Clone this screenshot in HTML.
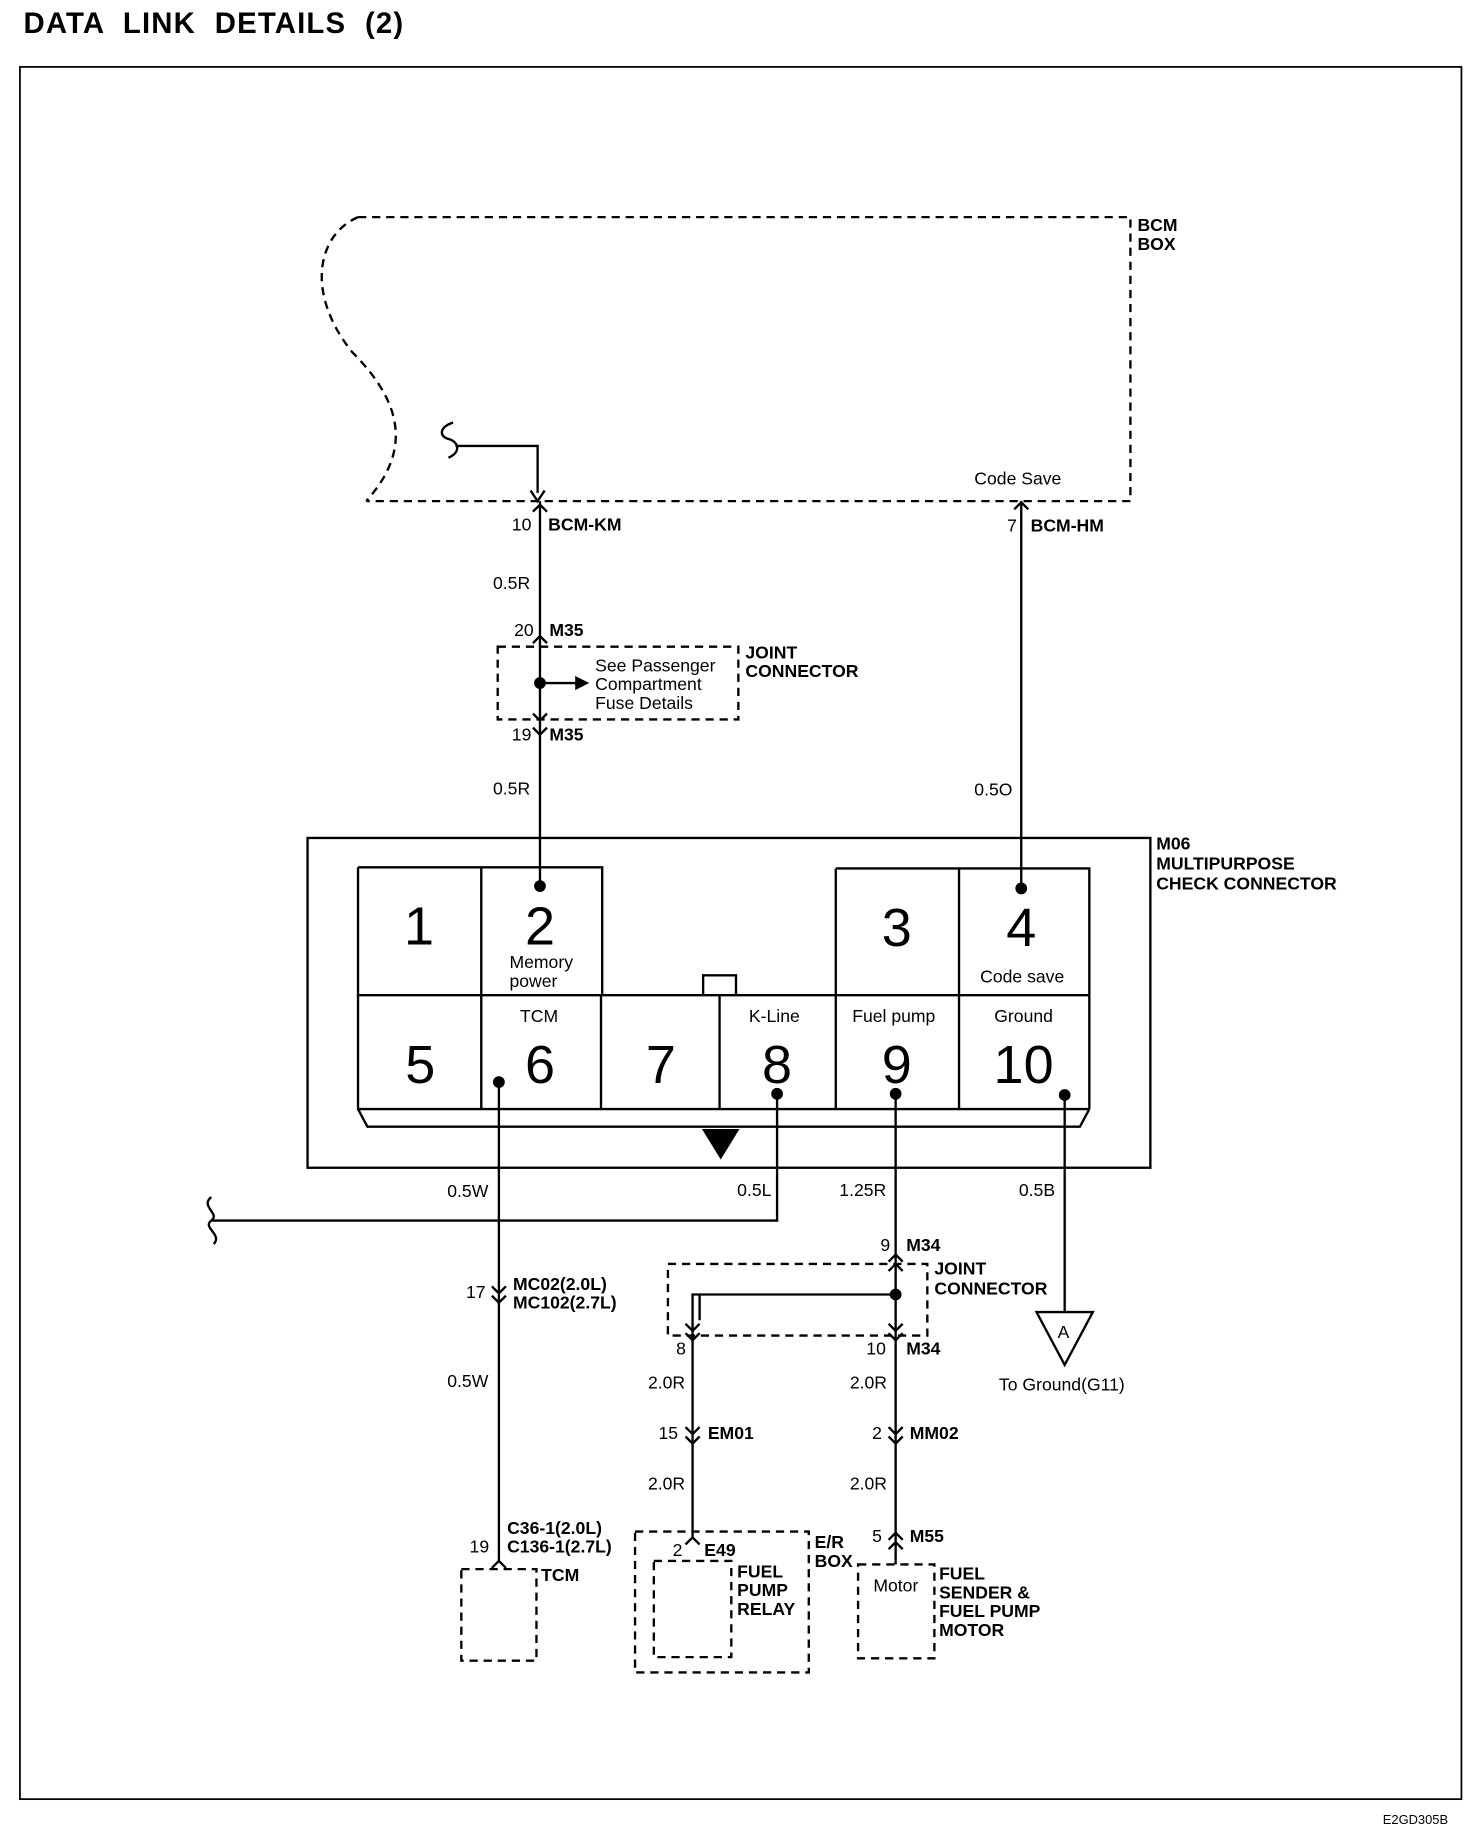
<!DOCTYPE html>
<html><head><meta charset="utf-8"><style>
html,body{margin:0;padding:0;background:#fff}
svg{display:block}
text{font-family:"Liberation Sans",sans-serif;fill:#000}
.b{font-weight:bold}
.s{font-size:15px}
.big{font-size:46px}
</style></head><body>
<svg width="1472" height="1832" viewBox="0 0 1254 1561" preserveAspectRatio="none" xmlns="http://www.w3.org/2000/svg">
<g fill="none" stroke="#000" stroke-width="2">
<text x="20" y="28" class="b" style="font-size:25px;letter-spacing:1px;word-spacing:8px" stroke="none">DATA LINK DETAILS (2)</text>
<rect x="17" y="57" width="1228" height="1476" stroke-width="1.5"/>
<!-- BCM box -->
<g stroke-dasharray="7,5">
<path d="M305 185 L963 185 L963 427 L312 427"/>
<path d="M305 185 C270 200 260 250 300 300 C350 350 345 390 312 427"/>
<rect x="424" y="551" width="205" height="62"/>
<rect x="569" y="1077" width="221" height="61"/>
<rect x="393" y="1337" width="64" height="78"/>
<rect x="541" y="1305" width="148" height="120"/>
<rect x="557" y="1330" width="66" height="82"/>
<rect x="731" y="1333" width="65" height="80"/>
</g>
<!-- wires -->
<path d="M386 360 C374 364 374 372 382 374 C392 377 392 386 382 390"/>
<path d="M388 380 L458 380 L458 420"/>
<path d="M452 418 L458 427 L464 418"/>
<path d="M460 427 L460 755"/>
<path d="M454 436 L460 430 L466 436"/>
<path d="M454 548 L460 542 L466 548"/>
<path d="M454 608 L460 614 L466 608"/>
<path d="M454 620 L460 626 L466 620"/>
<path d="M460 582 L492 582"/>
<path d="M870 427 L870 757"/>
<path d="M864 434 L870 428 L876 434"/>
<!-- connector -->
<rect x="262" y="714" width="718" height="281"/>
<path d="M305 739 L513 739 L513 848 M410 739 L410 945"/>
<path d="M712 740 L928 740 L928 945 M817 740 L817 945 M712 740 L712 945"/>
<path d="M305 739 L305 945 L928 945 M305 848 L928 848"/>
<path d="M512 848 L512 945 M613 848 L613 945"/>
<path d="M599 848 L599 831 L627 831 L627 848"/>
<path d="M305 945 L313 960 L920 960 L928 945"/>
<path d="M425 922 L425 1330"/>
<path d="M662 932 L662 1040 L180 1040"/>
<path d="M180 1020 C170 1028 188 1034 180 1040 C172 1046 190 1052 182 1060"/>
<path d="M763 932 L763 1330"/>
<path d="M907 933 L907 1118"/>
<path d="M883 1118 L931 1118 L907 1163 Z"/>
<path d="M419 1096 L425 1102 L431 1096 M419 1104 L425 1110 L431 1104"/>
<path d="M419 1336 L425 1330 L431 1336"/>
<path d="M757 1075 L763 1069 L769 1075 M757 1083 L763 1077 L769 1083"/>
<path d="M763 1103 L590 1103 L590 1310 M596 1103 L596 1125"/>
<path d="M584 1128 L590 1134 L596 1128 M584 1136 L590 1142 L596 1136"/>
<path d="M757 1128 L763 1134 L769 1128 M757 1136 L763 1142 L769 1136"/>
<path d="M584 1216 L590 1222 L596 1216 M584 1224 L590 1230 L596 1224"/>
<path d="M757 1216 L763 1222 L769 1216 M757 1224 L763 1230 L769 1224"/>
<path d="M584 1316 L590 1310 L596 1316"/>
<path d="M757 1312 L763 1306 L769 1312 M757 1320 L763 1314 L769 1320"/>
<path d="M763 1330 L763 1333"/>
</g>
<g fill="#000">
<circle cx="460" cy="755" r="5"/><circle cx="870" cy="757" r="5"/>
<circle cx="425" cy="922" r="5"/><circle cx="662" cy="932" r="5"/>
<circle cx="763" cy="932" r="5"/><circle cx="907" cy="933" r="5"/>
<circle cx="460" cy="582" r="5"/><circle cx="763" cy="1103" r="5"/>
<path d="M490 576 L502 582 L490 588 Z"/>
<path d="M598 962 L630 962 L614 988 Z"/>
</g>
<g class="s">
<text x="969" y="197" class="b">BCM</text><text x="969" y="213" class="b">BOX</text>
<text x="436" y="452">10</text><text x="467" y="452" class="b">BCM-KM</text>
<text x="420" y="502">0.5R</text>
<text x="438" y="542">20</text><text x="468" y="542" class="b">M35</text>
<text x="507" y="572">See Passenger</text><text x="507" y="588">Compartment</text><text x="507" y="604">Fuse Details</text>
<text x="635" y="561" class="b">JOINT</text><text x="635" y="577" class="b">CONNECTOR</text>
<text x="436" y="631">19</text><text x="468" y="631" class="b">M35</text>
<text x="420" y="677">0.5R</text>
<text x="830" y="413">Code Save</text>
<text x="858" y="453">7</text><text x="878" y="453" class="b">BCM-HM</text>
<text x="830" y="678">0.5O</text>
<text x="985" y="724" class="b">M06</text><text x="985" y="741" class="b">MULTIPURPOSE</text><text x="985" y="758" class="b">CHECK CONNECTOR</text>
<text x="434" y="825">Memory</text><text x="434" y="841">power</text>
<text x="835" y="837">Code save</text>
<text x="443" y="871">TCM</text><text x="638" y="871">K-Line</text>
<text x="726" y="871">Fuel pump</text><text x="847" y="871">Ground</text>
<text x="381" y="1020">0.5W</text><text x="628" y="1019">0.5L</text>
<text x="715" y="1019">1.25R</text><text x="868" y="1019">0.5B</text>
<text x="397" y="1106">17</text><text x="437" y="1099" class="b">MC02(2.0L)</text><text x="437" y="1115" class="b">MC102(2.7L)</text>
<text x="381" y="1182">0.5W</text>
<text x="400" y="1323">19</text><text x="432" y="1307" class="b">C36-1(2.0L)</text><text x="432" y="1323" class="b">C136-1(2.7L)</text>
<text x="461" y="1347" class="b">TCM</text>
<text x="750" y="1066">9</text><text x="772" y="1066" class="b">M34</text>
<text x="796" y="1086" class="b">JOINT</text><text x="796" y="1103" class="b">CONNECTOR</text>
<text x="576" y="1154">8</text><text x="738" y="1154">10</text><text x="772" y="1154" class="b">M34</text>
<text x="552" y="1183">2.0R</text><text x="724" y="1183">2.0R</text>
<text x="561" y="1226">15</text><text x="603" y="1226" class="b">EM01</text>
<text x="743" y="1226">2</text><text x="775" y="1226" class="b">MM02</text>
<text x="552" y="1269">2.0R</text><text x="724" y="1269">2.0R</text>
<text x="573" y="1326">2</text><text x="600" y="1326" class="b">E49</text>
<text x="694" y="1319" class="b">E/R</text><text x="694" y="1335" class="b">BOX</text>
<text x="628" y="1344" class="b">FUEL</text><text x="628" y="1360" class="b">PUMP</text><text x="628" y="1376" class="b">RELAY</text>
<text x="743" y="1314">5</text><text x="775" y="1314" class="b">M55</text>
<text x="744" y="1356">Motor</text>
<text x="800" y="1346" class="b">FUEL</text><text x="800" y="1362" class="b">SENDER &amp;</text><text x="800" y="1378" class="b">FUEL PUMP</text><text x="800" y="1394" class="b">MOTOR</text>
<text x="901" y="1140">A</text>
<text x="851" y="1185">To Ground(G11)</text>
<text x="1178" y="1554" style="font-size:11px">E2GD305B</text>
</g>
<g class="big" text-anchor="middle">
<text x="357" y="805">1</text><text x="460" y="805">2</text>
<text x="764" y="806">3</text><text x="870" y="806">4</text>
<text x="358" y="923">5</text><text x="460" y="923">6</text>
<text x="563" y="923">7</text><text x="662" y="923">8</text>
<text x="764" y="923">9</text><text x="872" y="923">10</text>
</g>
</svg>
</body></html>
